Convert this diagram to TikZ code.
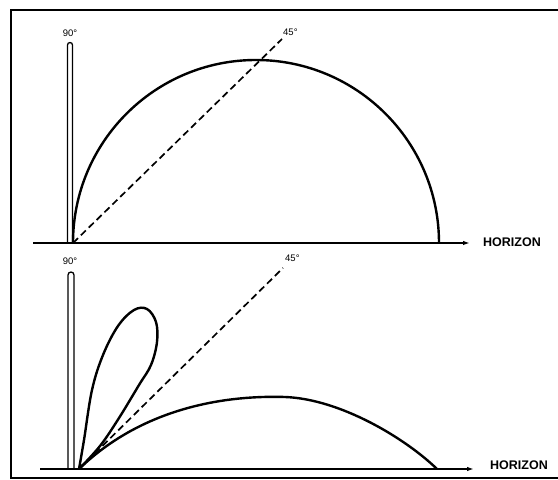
\documentclass[tikz,border=0pt]{standalone}
\usepackage{fontspec}
\setmainfont{Liberation Sans}
\usetikzlibrary{arrows.meta,positioning}

\begin{document}
\begin{tikzpicture}[x=1pt,y=1pt,
  frame/.style={line width=2.2pt},
  ground/.style={-{Latex[length=7pt,width=4.5pt]},line width=1.8pt},
  lobe/.style={line width=2.4pt,line join=round},
  mast/.style={line width=1.3pt},
  ray/.style={dash pattern=on 7pt off 4pt,line width=1.7pt},
  angle/.style={font=\fontsize{9.5}{10}\selectfont,inner sep=0pt},
  hlabel/.style={font=\fontsize{12.5}{13}\selectfont\bfseries,inner sep=0pt}]
\useasboundingbox (0,0) rectangle (558,480);
\draw[frame] (558,470) -- (11,470) -- (11,2) -- (558,2);
% upper panel
\coordinate (o1) at (73,237);
\coordinate (g1) at (33,237);
\coordinate (e1) at (470,237);
\coordinate (r1) at (282,441);
\node[hlabel,anchor=west] (hor1) at (483,238) {HORIZON};
\node[angle,anchor=west] (deg1) at (283,448) {45°};
\node[angle] (up1) at (70,447) {90°};
\draw[ground] (g1) -- (e1);
\draw[mast] (67.5,237) -- (67.5,435) arc[start angle=180,end angle=0,radius=2.5] -- (72.5,237);
\draw[ray] (o1) -- (r1);
\draw[lobe] (o1) arc[start angle=180,end angle=0,radius=183];
% lower panel
\coordinate (o2) at (79,11);
\coordinate (g2) at (40,11);
\coordinate (e2) at (474,11);
\coordinate (r2) at (283,212);
\coordinate (p2) at (437,11);
\node[hlabel,anchor=west] (hor2) at (490,15) {HORIZON};
\node[angle,anchor=west] (deg2) at (285,222) {45°};
\node[angle] (up2) at (70,219) {90°};
\draw[ground] (g2) -- (e2);
\draw[mast] (68,11) -- (68,205) arc[start angle=180,end angle=0,radius=3] -- (74,11);
\draw[ray] (o2) -- (r2);
\draw[lobe] plot[smooth,tension=0.6] coordinates {(o2) (84,40) (92,90) (103,125)
  (118,154) (134,170) (147,171) (156,158) (157,138) (151,115) (139,95) (119,62)
  (100,34) (o2)};
\draw[lobe] (o2) .. controls (140,70) and (220,85) .. (285,83)
  .. controls (340,81) and (405,42) .. (p2);
\end{tikzpicture}
\end{document}
